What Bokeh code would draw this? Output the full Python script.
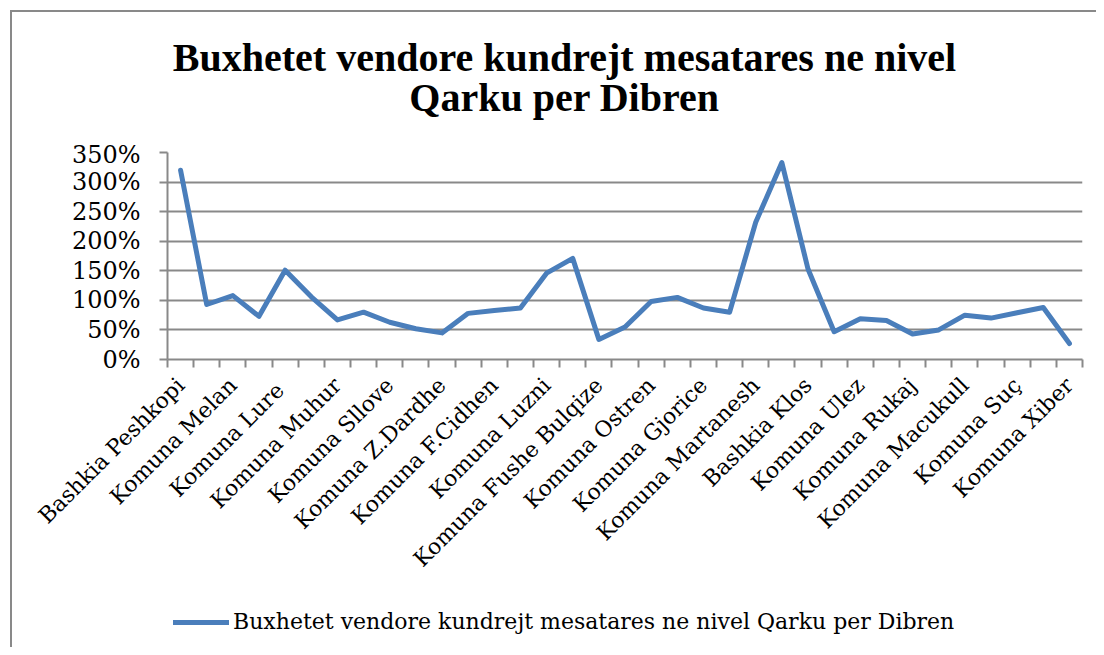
import math
from bokeh.plotting import figure
from bokeh.layouts import column
from bokeh.models import (FixedTicker, NumeralTickFormatter, Legend, LegendItem,
                          Label, Range1d)
from bokeh.embed import file_html
from bokeh.resources import INLINE

categories = [
    "Bashkia Peshkopi", "Komuna Kastriot", "Komuna Melan", "Komuna Maqellare",
    "Komuna  Lure", "Komuna Arras", "Komuna Muhur", "Komuna Tomin",
    "Komuna Sllove", "Komuna Kala e Dodes", "Komuna Z.Dardhe", "Komuna Zall Reç",
    "Komuna F.Cidhen", "Komuna Selishte", "Komuna Luzni", "Bashkia Bulqize",
    "Komuna Fushe Bulqize", "Komuna Zerqan", "Komuna Ostren", "Komuna Shupenze",
    "Komuna Gjorice", "Komuna Trebisht", "Komuna Martanesh", "Bashkia Burrel",
    "Bashkia Klos", "Komuna Baz", "Komuna Ulez", "Komuna Derjan",
    "Komuna Rukaj", "Komuna Komsi", "Komuna Macukull", "Komuna Lis",
    "Komuna Suç", "Komuna Gurre", "Komuna Xiber",
]
values = [
    3.20, 0.93, 1.08, 0.73, 1.51, 1.06, 0.67, 0.80, 0.63, 0.52,
    0.45, 0.78, 0.83, 0.87, 1.46, 1.71, 0.34, 0.55, 0.98, 1.05,
    0.87, 0.80, 2.32, 3.33, 1.53, 0.47, 0.69, 0.66, 0.43, 0.50,
    0.75, 0.70, 0.79, 0.88, 0.27,
]
y_ticks = [0, 0.5, 1.0, 1.5, 2.0, 2.5, 3.0, 3.5]
series_name = "Buxhetet vendore kundrejt mesatares ne nivel Qarku per Dibren"
title_lines = ["Buxhetet vendore kundrejt mesatares ne nivel", "Qarku per Dibren"]

W = 1096
H_TITLE, H_PLOT, H_LEG = 140, 460, 47
LEFT, RIGHT = 167, 14
GRID = "#898989"
BLUE = "#4A7EBB"
SERIF = "DejaVu Serif"


def blank_fig(h):
    # frames of stacked figures are aligned with the main chart's frame,
    # so the x range spans the same pixels as that frame
    f = figure(width=W, height=h, output_backend="svg", toolbar_location=None,
               x_axis_type=None, y_axis_type=None,
               x_range=Range1d(LEFT, W - RIGHT), y_range=Range1d(h, 0),
               min_border=0)
    f.outline_line_color = None
    f.background_fill_alpha = 0
    f.border_fill_alpha = 0
    return f


# ---- title block ----
pt = blank_fig(H_TITLE)
for txt, yc in zip(title_lines, [57, 97]):
    pt.add_layout(Label(x=564, y=yc, text=txt, text_align="center",
                        text_baseline="middle", text_font="Liberation Serif",
                        text_font_style="bold", text_font_size="40px",
                        text_color="black"))

# ---- main chart ----
xs = list(range(len(categories)))
p = figure(width=W, height=H_PLOT, output_backend="svg", toolbar_location=None,
           x_range=Range1d(-0.5, len(categories) - 0.5), y_range=Range1d(0, 3.5),
           min_border_left=LEFT, min_border_right=RIGHT, min_border_top=12,
           min_border_bottom=241)
p.outline_line_color = None
p.background_fill_color = "white"
p.border_fill_alpha = 0

r = p.line(xs, values, line_color=BLUE, line_width=5, line_cap="round",
           line_join="round")

xa = p.xaxis[0]
xa.ticker = FixedTicker(ticks=xs[::2], minor_ticks=[i - 0.5 for i in range(len(categories) + 1)])
xa.major_label_overrides = {i: categories[i] for i in xs[::2]}
xa.major_tick_line_color = None
xa.minor_tick_line_color = GRID
xa.minor_tick_line_width = 2
xa.minor_tick_out = 8
xa.minor_tick_in = 0
xa.axis_line_color = GRID
xa.axis_line_width = 2
xa.major_label_orientation = math.pi / 4
xa.major_label_text_font = SERIF
xa.major_label_text_font_size = "22px"
xa.major_label_text_color = "black"
xa.major_label_standoff = 14
p.xgrid.grid_line_color = None

ya = p.yaxis[0]
ya.ticker = FixedTicker(ticks=y_ticks)
ya.formatter = NumeralTickFormatter(format="0%")
ya.major_tick_line_color = GRID
ya.major_tick_line_width = 2
ya.major_tick_out = 8
ya.major_tick_in = 0
ya.minor_tick_line_color = None
ya.axis_line_color = GRID
ya.axis_line_width = 2
ya.major_label_text_font = SERIF
ya.major_label_text_font_size = "24px"
ya.major_label_text_color = "black"
ya.major_label_standoff = 19
p.ygrid.grid_line_color = GRID
p.ygrid.grid_line_width = 2
p.ygrid.ticker = FixedTicker(ticks=y_ticks)

# ---- legend block ----
pl = blank_fig(H_LEG)
# legend swatch proxy: a single (off-frame) point of the series, draws no line
proxy = pl.line(x=[xs[0]], y=[values[0]], line_color=BLUE, line_width=5,
                line_cap="round")
legend = Legend(items=[LegendItem(label=series_name, renderers=[proxy])],
                location=(6, 13), orientation="horizontal",
                padding=0, margin=0, border_line_color=None,
                background_fill_alpha=0, glyph_width=56, label_standoff=4,
                label_text_font=SERIF, label_text_font_size="22px",
                label_text_color="black")
pl.add_layout(legend)

layout = column(pt, p, pl, spacing=0)
layout.styles = {
    "background": (f"linear-gradient({GRID},{GRID}) 10px 10px / 2px 100% no-repeat, "
                   f"linear-gradient({GRID},{GRID}) 10px 10px / 100% 2px no-repeat, white"),
}

open("out.html", "w").write(file_html(layout, INLINE))
